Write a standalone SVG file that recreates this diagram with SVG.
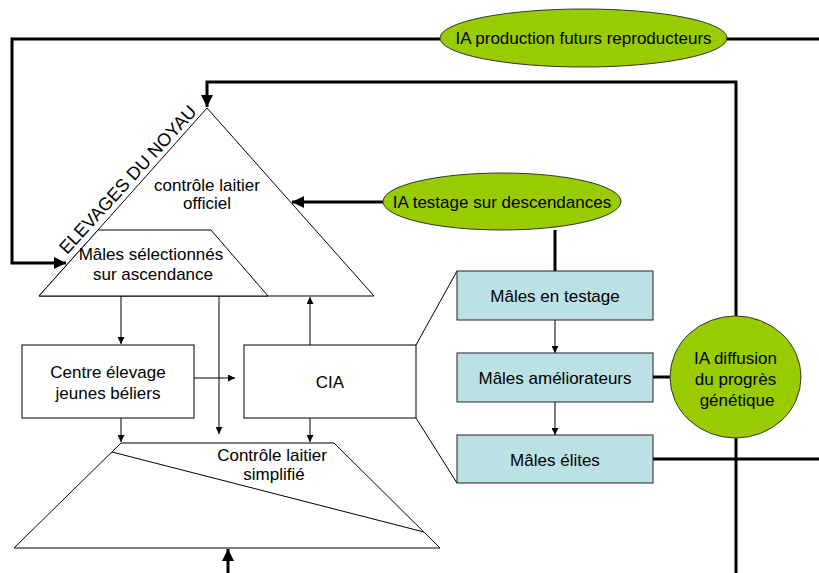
<svg xmlns="http://www.w3.org/2000/svg" width="819" height="573" viewBox="0 0 819 573">
<defs>
<style>
text{font-family:"Liberation Sans",Arial,sans-serif;font-size:17px;fill:#000;text-anchor:middle}
.thin{stroke:#000;stroke-width:1;fill:none}
.thick{stroke:#000;stroke-width:3;fill:none}
.shape{fill:#fff;stroke:#000;stroke-width:1}
.blue{fill:#BCE1E4;stroke:#222;stroke-width:1}
.green{fill:#99CC00;stroke:#333;stroke-width:1}
</style>
<marker id="a" viewBox="0 0 10 10" refX="10" refY="5" markerWidth="7" markerHeight="7" markerUnits="userSpaceOnUse" orient="auto"><path d="M0,0L10,5L0,10z" fill="#000"/></marker>
<marker id="b" viewBox="0 0 10 10" refX="10" refY="5" markerWidth="4" markerHeight="4" orient="auto"><path d="M0,0L10,5L0,10z" fill="#000"/></marker>
</defs>
<rect width="819" height="573" fill="#fff"/>

<g id="connectors">
<polyline class="thick" points="440,39 12,39 12,263 66,263" marker-end="url(#b)"/>
<line class="thick" x1="727" y1="39" x2="819" y2="39"/>
<polyline class="thick" points="736,316 736,82 207,82 207,107" marker-end="url(#b)"/>
<line class="thick" x1="736" y1="438" x2="736" y2="573"/>
<line class="thick" x1="383" y1="202" x2="292" y2="202" marker-end="url(#b)"/>
<line class="thick" x1="555" y1="230" x2="555" y2="271"/>
<line class="thick" x1="653" y1="377" x2="670" y2="377"/>
<line class="thick" x1="653" y1="459" x2="819" y2="459"/>
<line class="thick" x1="228" y1="573" x2="228" y2="549" marker-end="url(#b)"/>
<line class="thin" x1="121" y1="296" x2="121" y2="344" marker-end="url(#a)"/>
<line class="thin" x1="219" y1="296" x2="219" y2="434" marker-end="url(#a)"/>
<line class="thin" x1="310" y1="345" x2="310" y2="297" marker-end="url(#a)"/>
<line class="thin" x1="194" y1="378" x2="235" y2="378" marker-end="url(#a)"/>
<line class="thin" x1="121" y1="418" x2="121" y2="442" marker-end="url(#a)"/>
<line class="thin" x1="310" y1="418" x2="310" y2="442" marker-end="url(#a)"/>
<line class="thin" x1="555" y1="320" x2="555" y2="353" marker-end="url(#a)"/>
<line class="thin" x1="555" y1="402" x2="555" y2="435" marker-end="url(#a)"/>
<line class="thin" x1="416" y1="345" x2="457" y2="271"/>
<line class="thin" x1="416" y1="418" x2="457" y2="483"/>
</g>

<g id="noyau">
<polygon class="shape" points="207,108 374,296 39,296"/>
<text x="207" y="191">contrôle laitier</text>
<text x="207" y="209">officiel</text>
<text x="67" y="255" transform="rotate(-47.5 67 255)" style="text-anchor:start;font-size:18px">ELEVAGES DU NOYAU</text>
</g>

<g id="males-selectionnes">
<polygon class="shape" points="98,230 211,230 268,296 39,296"/>
<text x="151" y="260">Mâles sélectionnés</text>
<text x="153" y="280">sur ascendance</text>
</g>

<g id="centre-elevage">
<rect class="shape" x="22" y="345" width="172" height="73"/>
<text x="108" y="378">Centre élevage</text>
<text x="108" y="399">jeunes béliers</text>
</g>

<g id="cia">
<rect class="shape" x="244" y="345" width="172" height="73"/>
<text x="330" y="388">CIA</text>
</g>

<g id="controle-simplifie">
<polygon class="shape" points="121,443 334,443 440,548 14,548"/>
<line class="thin" x1="112" y1="452" x2="424" y2="532"/>
<text x="272" y="461">Contrôle laitier</text>
<text x="274" y="479.5">simplifié</text>
</g>

<g id="ia-production">
<ellipse class="green" cx="583.5" cy="38" rx="143.5" ry="29"/>
<text x="583.5" y="44">IA production futurs reproducteurs</text>
</g>

<g id="ia-testage">
<ellipse class="green" cx="502" cy="201.5" rx="119" ry="28.5"/>
<text x="502" y="208">IA testage sur descendances</text>
</g>

<g id="males-testage">
<rect class="blue" x="457" y="271" width="196" height="49"/>
<text x="555" y="302">Mâles en testage</text>
</g>

<g id="males-ameliorateurs">
<rect class="blue" x="457" y="353" width="196" height="49"/>
<text x="555" y="384">Mâles améliorateurs</text>
</g>

<g id="males-elites">
<rect class="blue" x="457" y="435" width="196" height="48"/>
<text x="555" y="466">Mâles élites</text>
</g>

<g id="ia-diffusion">
<ellipse class="green" cx="735.5" cy="377" rx="65.5" ry="61"/>
<text x="735.5" y="364">IA diffusion</text>
<text x="735.5" y="385">du progrès</text>
<text x="737" y="406">génétique</text>
</g>
</svg>
